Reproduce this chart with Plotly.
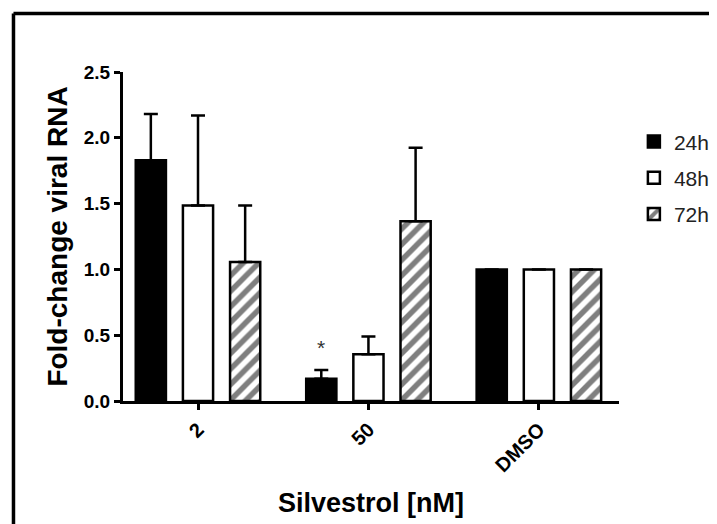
import plotly.graph_objects as go

categories = ["2", "50", "DMSO"]
series_names = ["24h", "48h", "72h"]
values_24h = [1.83, 0.17, 1.0]
values_48h = [1.485, 0.355, 1.0]
values_72h = [1.056, 1.365, 1.0]
err_24h = [0.35, 0.065, 0.0]
err_48h = [0.685, 0.135, 0.0]
err_72h = [0.43, 0.56, 0.0]
y_ticks = [0.0, 0.5, 1.0, 1.5, 2.0, 2.5]
star_category = "50"

FONT = "Liberation Sans"
fig = go.Figure()

styles = [
    dict(color="black"),
    dict(color="white"),
    dict(color="white", pattern=dict(shape="/", fgcolor="black", bgcolor="white", size=11, solidity=0.5)),
]
for name, vals, errs, st in zip(series_names, [values_24h, values_48h, values_72h],
                                [err_24h, err_48h, err_72h], styles):
    fig.add_trace(go.Bar(
        x=categories, y=vals, name=name, legendgroup=name,
        marker=dict(line=dict(color="black", width=2.5), **st),
        error_y=dict(type="data", array=errs, arrayminus=[0] * len(errs),
                     symmetric=False, color="black", thickness=2.5, width=7,
                     visible=True),
    ))

star_idx = categories.index(star_category)
fig.add_annotation(x=star_idx, y=values_24h[star_idx] + err_24h[star_idx], text="*",
                   showarrow=False, xref="x", yref="y",
                   xshift=-47, yanchor="bottom", yshift=9,
                   font=dict(family=FONT, size=21, color="#333"))

# outer frame lines (left and top)
fig.add_shape(type="line", xref="paper", yref="paper", x0=-0.2208, x1=-0.2208, y0=-0.4, y1=1.178,
              line=dict(color="black", width=3.5))
fig.add_shape(type="line", xref="paper", yref="paper", x0=-0.2208, x1=1.25, y0=1.178, y1=1.178,
              line=dict(color="black", width=3.5))

fig.update_layout(
    width=709, height=516,
    margin=dict(l=115, r=98, t=64, b=123, autoexpand=False),
    plot_bgcolor="white", paper_bgcolor="white",
    barmode="group", bargap=0.17, bargroupgap=0.36,
    showlegend=True,
    legend=dict(x=1.03, y=0.85, xanchor="left", yanchor="top",
                font=dict(family=FONT, size=21, color="#222"),
                tracegroupgap=6, traceorder="grouped", itemwidth=30,
                bgcolor="rgba(0,0,0,0)"),
    font=dict(family=FONT, color="black"),
)
fig.update_xaxes(
    range=[-0.44, 2.47], showline=True, linecolor="black", linewidth=3,
    ticks="outside", ticklen=6, tickwidth=2.5, tickcolor="black", automargin=False,
    tickangle=-45, tickfont=dict(family=FONT, size=20, color="black", weight="bold"),
    title=dict(text="Silvestrol [nM]", font=dict(family=FONT, size=27, weight="bold"), standoff=18),
    showgrid=False, zeroline=False,
)
fig.update_yaxes(
    range=[0, 2.5], tickvals=y_ticks, tickformat=".1f",
    showline=True, linecolor="black", linewidth=3, automargin=False,
    ticks="outside", ticklen=6, tickwidth=2.5, tickcolor="black",
    tickfont=dict(family=FONT, size=19, color="black", weight="bold"),
    title=dict(text="Fold-change viral RNA", font=dict(family=FONT, size=28, weight="bold"), standoff=8),
    showgrid=False, zeroline=False,
)

fig.write_html("out.html")
